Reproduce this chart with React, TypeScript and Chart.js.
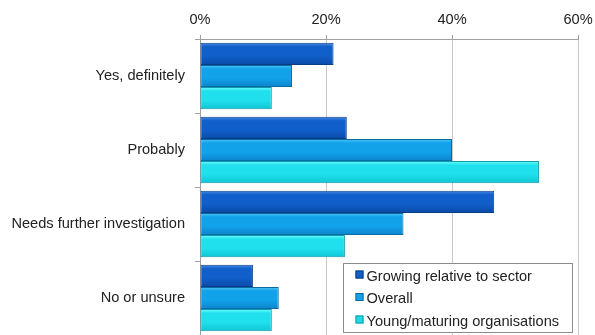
import React, { useEffect, useRef } from "react";
import { Chart, registerables } from "chart.js";

Chart.register(...registerables);

const categories = ["Yes, definitely", "Probably", "Needs further investigation", "No or unsure"];
const seriesNames = ["Growing relative to sector", "Overall", "Young/maturing organisations"];
const growing = [21.2, 23.3, 46.7, 8.4];
const overall = [14.6, 40.0, 32.3, 12.5];
const young = [11.4, 53.8, 23.0, 11.4];
const xTicks = [0, 20, 40, 60];

const palette = [
  { top: "#4a8ee4", mid: "#115fca", bot: "#0a4aa8", border: "#083d85", marker: "#1560c8" },
  { top: "#55c8f6", mid: "#12a2ea", bot: "#0c84cc", border: "#0a6aa5", marker: "#18a0e6" },
  { top: "#70ffff", mid: "#20e0ee", bot: "#10c4d4", border: "#0e9aa8", marker: "#20d8e6" },
];

const FONT = "'Liberation Sans', Arial, sans-serif";
const FSIZE = 14.6;
const CAT_PCT = 0.9;

function barFill(c: any) {
  const chart = c.chart;
  const i = c.datasetIndex;
  const p = palette[i];
  const ys = chart.scales && chart.scales.y;
  if (!ys || !chart.chartArea || c.dataIndex === undefined) return p.mid;
  const yc = ys.getPixelForValue(c.dataIndex);
  const band = (chart.chartArea.bottom - chart.chartArea.top) / categories.length;
  const thick = (band * CAT_PCT) / seriesNames.length;
  const top = yc - (band * CAT_PCT) / 2 + thick * i;
  const g = chart.ctx.createLinearGradient(0, top, 0, top + thick);
  g.addColorStop(0, p.top);
  g.addColorStop(0.18, p.mid);
  g.addColorStop(0.6, p.mid);
  g.addColorStop(1, p.bot);
  return g;
}

const legendPlugin = {
  id: "insideLegend",
  afterDraw(chart: any) {
    const ctx = chart.ctx;
    const x0 = 343.5, y0 = 263.5, w = 229, h = 69;
    ctx.save();
    ctx.fillStyle = "#ffffff";
    ctx.fillRect(x0, y0, w, h);
    ctx.strokeStyle = "#8c8c8c";
    ctx.lineWidth = 1;
    ctx.strokeRect(x0, y0, w, h);
    ctx.font = `${FSIZE}px ${FONT}`;
    ctx.textBaseline = "middle";
    ctx.textAlign = "left";
    chart.data.datasets.forEach((ds: any, i: number) => {
      const cy = y0 + 12 + i * 22.5;
      const p = palette[i];
      ctx.fillStyle = p.marker;
      ctx.fillRect(x0 + 12, cy - 5, 8, 8);
      ctx.strokeStyle = p.border;
      ctx.strokeRect(x0 + 12.5, cy - 4.5, 7, 7);
      ctx.fillStyle = "#222222";
      ctx.fillText(ds.label, x0 + 23, cy + 1);
    });
    ctx.restore();
  },
};

export default function App() {
  const ref = useRef<HTMLCanvasElement | null>(null);
  useEffect(() => {
    if (!ref.current) return;
    const values = [growing, overall, young];
    const chart = new Chart(ref.current, {
      type: "bar",
      data: {
        labels: categories,
        datasets: seriesNames.map((name, i) => ({
          label: name,
          data: values[i],
          backgroundColor: barFill,
          borderColor: palette[i].border,
          borderWidth: 1,
          borderSkipped: false,
          categoryPercentage: CAT_PCT,
          barPercentage: 1.0,
        })),
      },
      options: {
        indexAxis: "y",
        animation: false,
        responsive: false,
        maintainAspectRatio: false,
        layout: { padding: { left: 0, right: 17, top: 0, bottom: 0 } },
        plugins: { legend: { display: false }, tooltip: { enabled: false }, title: { display: false } },
        scales: {
          x: {
            position: "top",
            min: 0,
            max: 60,
            afterBuildTicks: (s: any) => { s.ticks = xTicks.map((v) => ({ value: v })); },
            afterFit: (s: any) => {
              s.height = 39;
              s.paddingLeft = 0; s.paddingRight = 0; s.paddingTop = 0; s.paddingBottom = 0;
            },
            ticks: {
              color: "#222222",
              font: { family: FONT, size: FSIZE },
              padding: 6,
              callback: (v: any) => `${v}%`,
            },
            grid: { color: "#c8c8c8", tickLength: 4, drawTicks: true, tickColor: "#a0a0a0" },
            border: { color: "#a0a0a0" },
          },
          y: {
            afterFit: (s: any) => {
              s.width = 200;
              s.paddingLeft = 0; s.paddingRight = 0; s.paddingTop = 0; s.paddingBottom = 0;
            },
            ticks: {
              color: "#222222",
              font: { family: FONT, size: FSIZE },
              padding: 10,
            },
            grid: { display: true, drawOnChartArea: false, tickLength: 5, color: "#a0a0a0", offset: true },
            border: { color: "#a0a0a0" },
          },
        },
      },
      plugins: [legendPlugin],
    } as any);
    return () => chart.destroy();
  }, []);
  return (
    <div style={{ position: "fixed", left: 0, top: 0, width: 595, height: 335, background: "#fff", overflow: "hidden" }}>
      <canvas ref={ref} width={595} height={335} style={{ width: 595, height: 335, display: "block" }} />
    </div>
  );
}
